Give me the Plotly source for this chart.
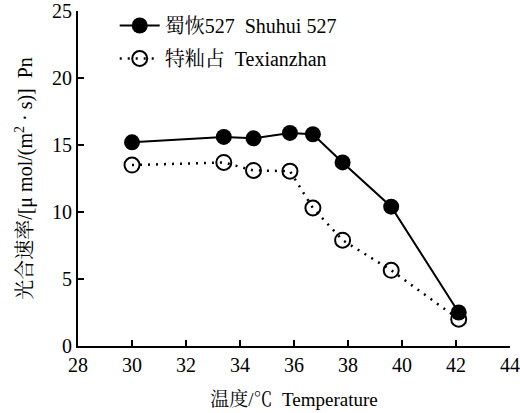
import plotly.graph_objects as go

# Data
temp_shuhui = [30.0, 33.4, 34.5, 35.85, 36.7, 37.8, 39.6, 42.1]
pn_shuhui = [15.2, 15.6, 15.5, 15.9, 15.8, 13.7, 10.4, 2.5]
temp_texian = [30.0, 33.4, 34.5, 35.85, 36.7, 37.8, 39.6, 42.1]
pn_texian = [13.5, 13.7, 13.1, 13.05, 10.3, 7.9, 5.65, 2.0]

name_shuhui = "蜀恢527  Shuhui 527"
name_texian = "特籼占  Texianzhan"
x_ticks = [28, 30, 32, 34, 36, 38, 40, 42, 44]
y_ticks = [0, 5, 10, 15, 20, 25]
x_title = "温度/℃  Temperature"
y_title = "光合速率/[μ mol/(m<sup>2</sup> · s)]  Pn"

FONT = "Times New Roman, Liberation Serif, Noto Serif CJK SC, Noto Sans CJK SC, serif"

fig = go.Figure()
fig.add_trace(go.Scatter(
    x=temp_shuhui, y=pn_shuhui, name=name_shuhui, mode="lines+markers",
    line=dict(color="black", width=2),
    marker=dict(symbol="circle", size=16, color="black"),
    legendgroup="a",
))
fig.add_trace(go.Scatter(
    x=temp_texian, y=pn_texian, name=name_texian, mode="lines+markers",
    line=dict(color="black", width=2.5, dash="2px,6px"),
    marker=dict(symbol="circle-open", size=15, color="black", line=dict(width=2)),
    legendgroup="b",
))

fig.update_layout(
    width=520, height=413,
    margin=dict(l=78, r=10, t=11, b=67, autoexpand=False),
    paper_bgcolor="white", plot_bgcolor="white",
    font=dict(family=FONT, size=18, color="black"),
    showlegend=True,
    legend=dict(
        x=0.085, y=1.015, xanchor="left", yanchor="top",
        bgcolor="rgba(0,0,0,0)", font=dict(size=20, family=FONT),
        tracegroupgap=4, itemwidth=40,
    ),
    xaxis=dict(
        range=[28, 44], tickvals=x_ticks, ticktext=[str(v) for v in x_ticks],
        showline=True, linecolor="black", linewidth=2,
        ticks="inside", ticklen=6, tickwidth=2, tickcolor="black",
        showgrid=False, zeroline=False, automargin=False,
        tickfont=dict(size=20, family=FONT),
        title=dict(text=x_title, font=dict(size=19, family=FONT), standoff=18),
    ),
    yaxis=dict(
        range=[0, 25], tickvals=y_ticks, ticktext=[str(v) for v in y_ticks],
        showline=True, linecolor="black", linewidth=2,
        ticks="inside", ticklen=6, tickwidth=2, tickcolor="black",
        showgrid=False, zeroline=False, automargin=False,
        tickfont=dict(size=20, family=FONT),
        title=dict(text=y_title, font=dict(size=20, family=FONT), standoff=14),
    ),
)

fig.write_html("out.html", config={"displayModeBar": False},
               post_script="document.body.style.margin='0px';")
